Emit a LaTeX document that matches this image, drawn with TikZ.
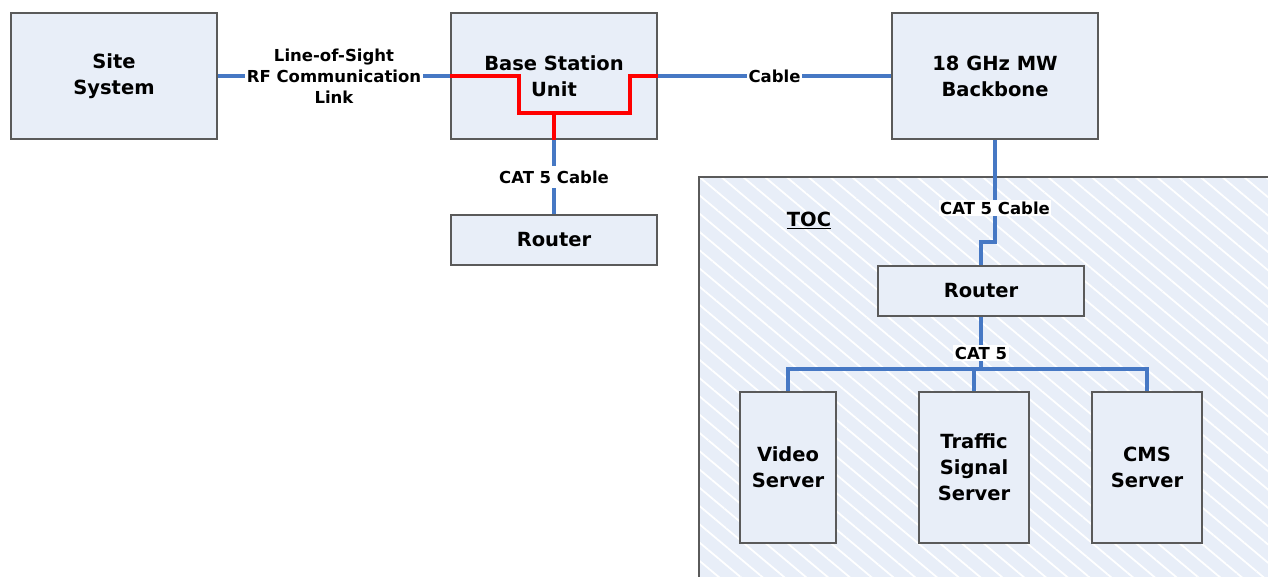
\documentclass[tikz,border=0pt]{standalone}
\usepackage{fontspec}
\setmainfont{DejaVu Sans}
\usetikzlibrary{patterns.meta}
\definecolor{boxfill}{RGB}{232,238,248}
\definecolor{boxline}{RGB}{90,90,90}
\definecolor{linkblue}{RGB}{70,120,196}
\definecolor{linkred}{RGB}{255,0,0}
\tikzset{
  unitbox/.style={draw=boxline, fill=boxfill, line width=1.2pt, align=center,
    font=\fontsize{19.5}{26}\selectfont\bfseries, inner sep=0pt},
  bluelink/.style={draw=linkblue, line width=3.5pt},
  redlink/.style={draw=linkred, line width=3.5pt},
  lbl/.style={font=\fontsize{16.5}{21}\selectfont\bfseries, align=center, inner sep=1.5pt, fill=white}
}
\begin{document}
\begin{tikzpicture}[x=1pt,y=-1pt]
\useasboundingbox (0,0) rectangle (1268,577);
% TOC area
\fill[boxfill] (699,177) rectangle (1275,585);
\fill[pattern={Lines[angle=-40,distance=14pt,line width=1.8pt]}, pattern color=white] (699,177) rectangle (1275,585);
\draw[boxline, line width=1.2pt] (699,585) -- (699,177) -- (1275,177);
\node[font=\fontsize{19.5}{26}\selectfont\bfseries] (toc) at (809,220) {\underline{TOC}};
% boxes
\node[unitbox, minimum width=206pt, minimum height=126pt] (site) at (114,76) {Site\\System};
\node[unitbox, minimum width=206pt, minimum height=126pt] (bsu) at (554,76) {Base Station\\Unit};
\node[unitbox, minimum width=206pt, minimum height=126pt] (bb) at (995,76) {18 GHz MW\\Backbone};
\node[unitbox, minimum width=206pt, minimum height=50pt] (r1) at (554,240) {Router};
\node[unitbox, minimum width=206pt, minimum height=50pt] (r2) at (981,291) {Router};
\node[unitbox, minimum width=96pt, minimum height=151pt] (vs) at (788,467.5) {Video\\Server};
\node[unitbox, minimum width=110pt, minimum height=151pt] (ts) at (974,467.5) {Traffic\\Signal\\Server};
\node[unitbox, minimum width=110pt, minimum height=151pt] (cms) at (1147,467.5) {CMS\\Server};
% links
\draw[bluelink] (site.east) -- node[lbl]{Line-of-Sight\\RF Communication\\Link} (bsu.west);
\draw[bluelink] (bsu.east) -- node[lbl]{Cable} (bb.west);
\coordinate (bsuj) at (554,113);
\draw[redlink] (bsu.west) -| (519,113) -| (630,76) -- (bsu.east);
\draw[redlink] (bsuj) -- (bsu.south);
\draw[bluelink] (bsu.south) -- node[lbl, inner ysep=5pt]{CAT 5 Cable} (r1.north);
\coordinate (bbk) at (995,242);
\draw[bluelink] (bb.south) -- node[lbl, pos=0.67]{CAT 5 Cable} (bbk) -| (r2.north);
\coordinate (bus) at (981,369);
\draw[bluelink] (r2.south) -- (bus);
\draw[bluelink] (vs.north) |- (bus) -| (cms.north);
\draw[bluelink] (ts.north) -- (ts.north |- bus);
\node[lbl] (cat5) at (981,353) {CAT 5};
\end{tikzpicture}
\end{document}
